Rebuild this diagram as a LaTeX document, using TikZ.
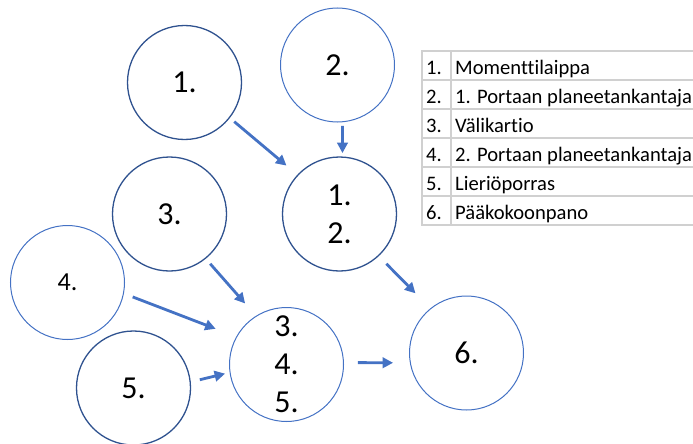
\documentclass[tikz,border=0pt]{standalone}
\usepackage{fontspec}
\setmainfont{Carlito}[Ligatures=NoCommon]
\usetikzlibrary{arrows.meta}
\definecolor{accdark}{HTML}{2F528F}
\definecolor{acc}{HTML}{4472C4}
\definecolor{gridgray}{HTML}{D0D0D0}

\begin{document}
\begin{tikzpicture}[x=1pt,y=-1pt,
  part/.style={circle, minimum size=114pt, inner sep=0pt, outer sep=0pt,
    font=\fontsize{32}{38}\selectfont, align=center},
  dark/.style={part, draw=accdark, line width=1.3pt},
  light/.style={part, draw=acc, line width=1pt},
  flow/.style={draw=acc, line width=2.8pt, -{Triangle[length=10.5pt,width=10.5pt]}},
  cell/.style={anchor=base west, inner sep=0pt, font=\fontsize{20.6}{24}\selectfont},
  gridline/.style={draw=gridgray, line width=1.2pt}
]
\useasboundingbox (0,0) rectangle (693,444);
\clip (0,0) rectangle (693,444);

% assembly steps
\node[dark]  (c1)   at (184.5,82.5) {1.};
\node[light] (c2)   at (337.5,65)   {2.};
\node[dark]  (c12)  at (339.5,214)  {1.\\2.};
\node[dark]  (c3)   at (169.5,214)  {3.};
\node[light, font=\fontsize{26}{30}\selectfont] (c4) at (67.5,282.5) {4.};
\node[dark]  (c5)   at (133.5,388)  {5.};
\node[light] (c345) at (286.5,364.5) {3.\\4.\\5.};
\node[light] (c6)   at (466.5,353)  {6.};

% flow between steps
\draw[flow, shorten <=6.3pt,  shorten >=14.8pt] (c1.-38.6)  -- (c12.137);
\draw[flow, shorten <=4.2pt,  shorten >=4pt]    (c2.-85.8)  -- (c12.87.7);
\draw[flow, shorten <=11.3pt, shorten >=21.6pt] (c12.-47.1) -- (c6.129);
\draw[flow, shorten <=7.3pt,  shorten >=16.9pt] (c3.-51)    -- (c345.122.3);
\draw[flow, shorten <=9.9pt,  shorten >=22.5pt] (c4.-11.6)  -- (c345.151);
\draw[flow, shorten <=9.9pt,  shorten >=5.1pt]  (c5.6)      -- (c345.-172.1);
\draw[flow, shorten <=14.5pt, shorten >=17.3pt] (c345.2)    -- (c6.-170.4);

% legend table
\draw[gridline] (422,51) rectangle (705,225);
\foreach \yy in {80,109,138,167,196} \draw[gridline] (422,\yy) -- (705,\yy);
\draw[gridline] (451,51) -- (451,225);
\foreach \n/\txt [count=\k from 0] in {1/Momenttilaippa,2/1. Portaan planeetankantaja,3/Välikartio,4/2. Portaan planeetankantaja,5/Lieriöporras,6/Pääkokoonpano} {
  \node[cell] (num\n)  at (426, {51+29*\k+23.3}) {\n.};
  \node[cell] (name\n) at (455, {51+29*\k+23.3}) {\txt};
}
\end{tikzpicture}
\end{document}
